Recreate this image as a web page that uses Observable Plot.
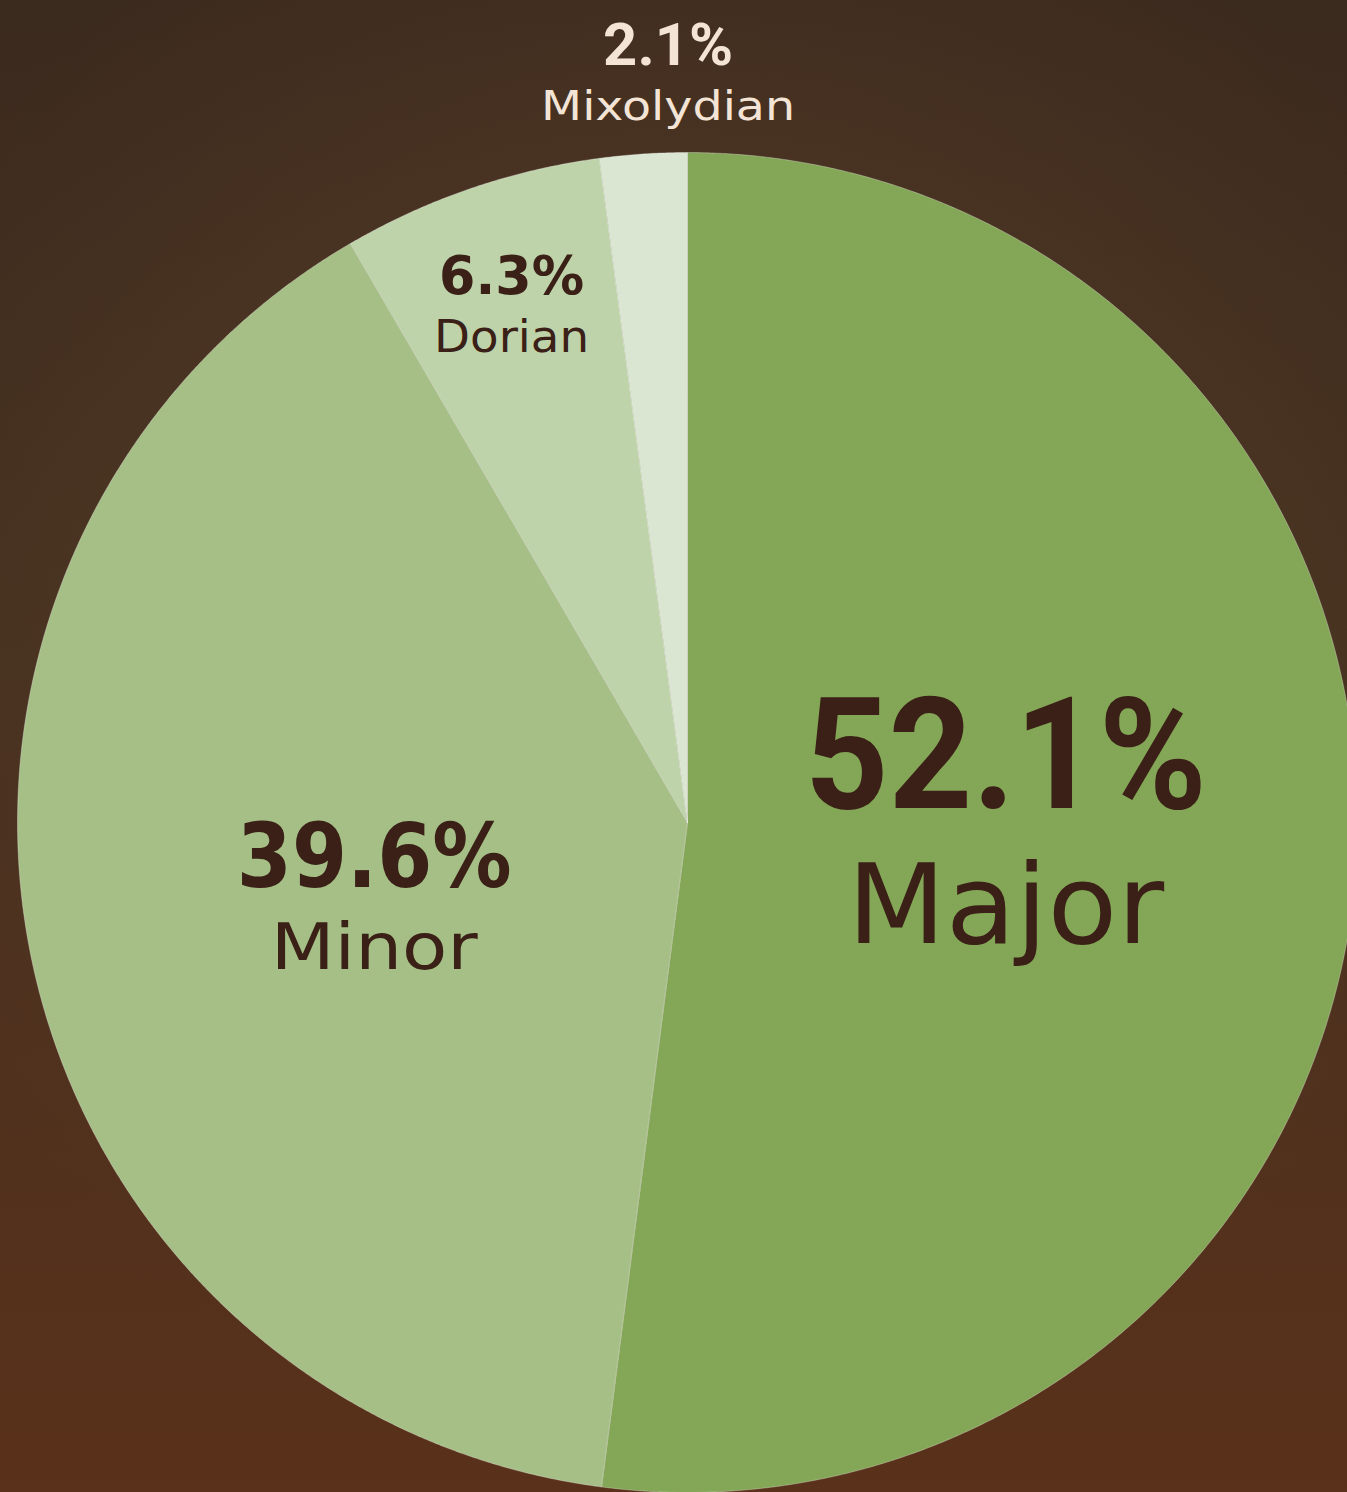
<!DOCTYPE html>
<html>
<head>
<meta charset="utf-8">
<script src="https://cdn.jsdelivr.net/npm/d3@7"></script>
<script src="https://cdn.jsdelivr.net/npm/@observablehq/plot@0.6"></script>
<style>
  html, body { margin: 0; padding: 0; }
  body {
    width: 1347px; height: 1492px; overflow: hidden;
    background:
      radial-gradient(ellipse 65% 55% at 50% 42%, rgba(92,62,40,0.85) 0%, rgba(92,62,40,0) 100%),
      linear-gradient(to bottom, #3b2a1e 0%, #44301f 45%, #5a311a 100%);
  }
  #chart svg { display: block; }
</style>
</head>
<body>
<div id="chart"></div>
<script>
// ---- data ----
const categories = ["Major", "Minor", "Dorian", "Mixolydian"];
const shares = [52.1, 39.6, 6.3, 2.1];
const pctLabels = ["52.1%", "39.6%", "6.3%", "2.1%"];

// ---- styles ----
const sliceColors = ["#84a657", "#a5bf86", "#bfd3aa", "#dae6d1"];
const labelStyle = {
  Major:      {r: 0.476, dx: 0,  pctFont: "Roboto",      pctSize: 155, pctDy: -35, pctW: 402, nameSize: 111, nameDy: 100, nameW: 317, color: "#3a2016"},
  Minor:      {r: 0.480, dx: 2,  pctFont: "DejaVu Sans", pctSize: 89,  pctDy: 1,   pctW: 275, nameSize: 64,  nameDy: 83,  nameW: 207, color: "#3a2016"},
  Dorian:     {r: 0.816, dx: 1,  pctFont: "DejaVu Sans", pctSize: 53,  pctDy: -11, pctW: 145, nameSize: 44,  nameDy: 47,  nameW: 155, color: "#3a2016"},
  Mixolydian: {r: 1.119, dx: 30, pctFont: "Roboto",      pctSize: 60,  pctDy: -9,  pctW: 130, nameSize: 40,  nameDy: 46,  nameW: 254, color: "#f3e4d6"}
};

const W = 1347, H = 1492, R = 670, CX = 687, CY = 822;

const rows = categories.map((c, i) => ({category: c, share: shares[i], pct: pctLabels[i]}));
const arcs = d3.pie().sort(null).value(d => d.share).startAngle(0).endAngle(2 * Math.PI)(rows);

// slice outlines as polygons in unit (data) space
const ring = [];
for (const s of arcs) {
  const c = s.data.category;
  const n = Math.max(4, Math.ceil((s.endAngle - s.startAngle) / (Math.PI / 720)));
  ring.push({category: c, x: 0, y: 0});
  for (let k = 0; k <= n; k++) {
    const a = s.startAngle + (s.endAngle - s.startAngle) * k / n;
    ring.push({category: c, x: Math.sin(a), y: Math.cos(a)});
  }
  ring.push({category: c, x: 0, y: 0});
}

const labels = arcs.map(s => {
  const a = (s.startAngle + s.endAngle) / 2;
  const st = labelStyle[s.data.category];
  return {...s.data, x: st.r * Math.sin(a), y: st.r * Math.cos(a)};
});

const textMarks = [];
for (const d of labels) {
  const st = labelStyle[d.category];
  textMarks.push(Plot.text([d], {
    x: "x", y: "y", text: "pct", dx: st.dx, dy: st.pctDy, lineAnchor: "bottom",
    fontSize: st.pctSize, fontWeight: 700, fontFamily: st.pctFont, fill: st.color,
    ariaDescription: "w" + st.pctW
  }));
  textMarks.push(Plot.text([d], {
    x: "x", y: "y", text: "category", dx: st.dx, dy: st.nameDy, lineAnchor: "bottom",
    fontSize: st.nameSize, fontWeight: 400, fontFamily: "DejaVu Sans", fill: st.color,
    ariaDescription: "w" + st.nameW
  }));
}

const chart = Plot.plot({
  width: W, height: H,
  margin: 0,
  style: {background: "transparent", overflow: "hidden"},
  x: {domain: [-1, 1], range: [CX - R, CX + R], axis: null},
  y: {domain: [-1, 1], range: [CY + R, CY - R], axis: null},
  color: {domain: categories, range: sliceColors},
  marks: [
    Plot.line(ring, {x: "x", y: "y", z: "category", fill: "category",
      stroke: "rgba(255,255,255,0.3)", strokeWidth: 1, curve: "linear-closed"}),
    ...textMarks
  ]
});

// stretch label widths to the reference's wide typeface
chart.querySelectorAll("g[aria-description]").forEach(g => {
  const w = g.getAttribute("aria-description");
  if (!w || w[0] !== "w") return;
  g.querySelectorAll("text").forEach(t => {
    t.setAttribute("textLength", w.slice(1));
    t.setAttribute("lengthAdjust", "spacingAndGlyphs");
  });
});

document.getElementById("chart").appendChild(chart);
</script>
</body>
</html>
